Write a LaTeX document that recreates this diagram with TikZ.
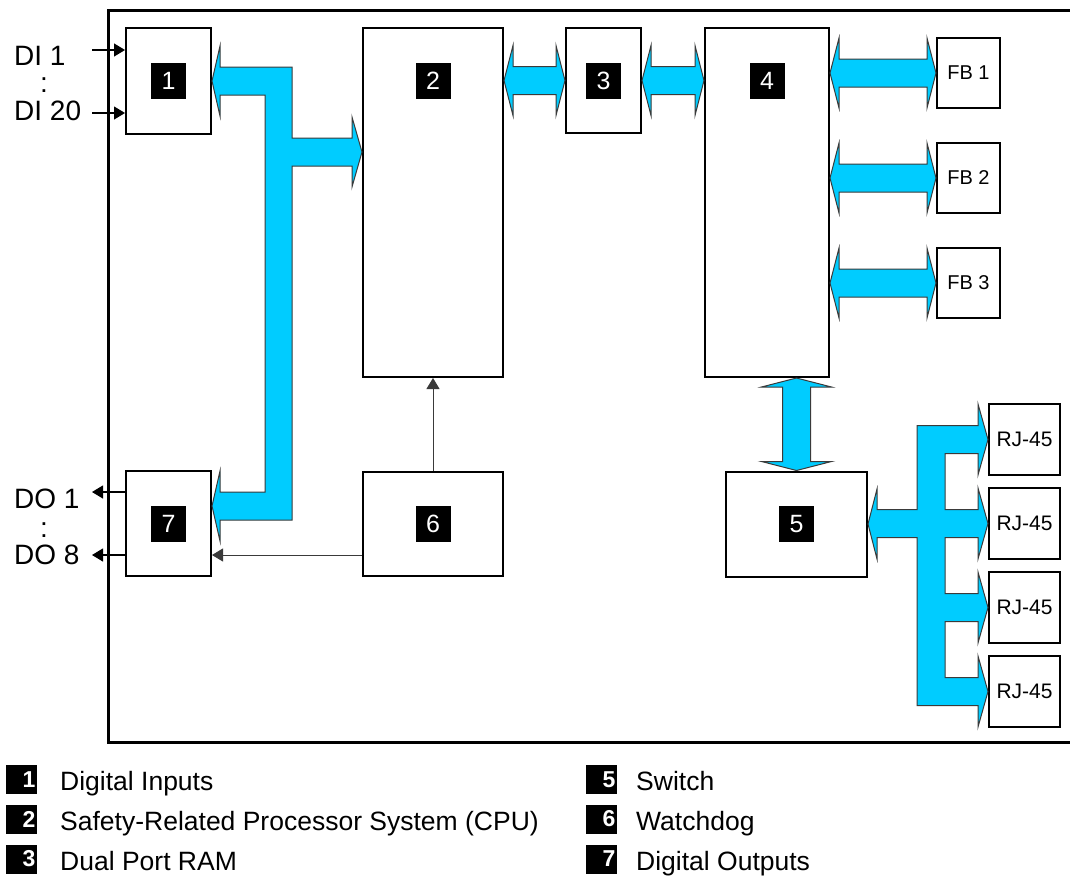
\documentclass[tikz,border=0pt]{standalone}
\usepackage{fontspec}
\setmainfont{Liberation Sans}
\usepackage{tikz}
\usetikzlibrary{arrows.meta, positioning, calc}

\definecolor{buscyan}{HTML}{00CCFF}
\definecolor{busedge}{HTML}{3A3A3A}

\tikzstyle{box} = [rectangle, draw=black, line width=2pt, fill=white, inner sep=0pt]
\tikzstyle{badge} = [rectangle, fill=black, text=white, minimum width=35pt, minimum height=36pt, inner sep=0pt, font=\fontsize{25}{25}\selectfont]
\tikzstyle{lbadge} = [rectangle, fill=black, text=white, minimum width=31pt, minimum height=29pt, inner sep=0pt, text width=28pt, align=right, font=\bfseries\fontsize{23}{23}\selectfont]
\tikzstyle{sigtext} = [inner sep=0pt, anchor=base west, font=\fontsize{28}{28}\selectfont]
\tikzstyle{legtext} = [inner sep=0pt, anchor=base west, font=\fontsize{26.5}{30}\selectfont]
\tikzstyle{arrow} = [line width=1.2pt, -{Triangle[length=11pt,width=13pt]}]
\tikzstyle{bus} = [draw=busedge, line width=1pt, fill=buscyan, line join=miter]
\tikzstyle{hbus} = [bus, to path={let \p1=(\tikztostart), \p2=(\tikztotarget) in
  (\p1) -- (\x1+9pt,\y1+35pt) -- (\x1+9pt,\y1+14pt) -- (\x2-9pt,\y1+14pt) -- (\x2-9pt,\y1+35pt)
  -- (\x2,\y1) -- (\x2-9pt,\y1-35pt) -- (\x2-9pt,\y1-14pt) -- (\x1+9pt,\y1-14pt) -- (\x1+9pt,\y1-35pt) -- cycle}]
\tikzstyle{vbus} = [bus, to path={let \p1=(\tikztostart), \p2=(\tikztotarget) in
  (\p1) -- (\x1+35pt,\y1+9pt) -- (\x1+14pt,\y1+9pt) -- (\x1+14pt,\y2-9pt) -- (\x1+35pt,\y2-9pt)
  -- (\x1,\y2) -- (\x1-35pt,\y2-9pt) -- (\x1-14pt,\y2-9pt) -- (\x1-14pt,\y1+9pt) -- (\x1-35pt,\y1+9pt) -- cycle}]

\begin{document}
\begin{tikzpicture}[x=1pt, y=-1pt]
\useasboundingbox (0,0) rectangle (1070,878);

% outer frame
\draw [line width=3pt] (1070,10) -- (108,10) -- (108,742) -- (1070,742);

% modules
\node (b1) [box, minimum width=85pt, minimum height=106pt] at (168.5,81) {};
\node (b2) [box, minimum width=140pt, minimum height=349pt] at (433,202.5) {};
\node (b3) [box, minimum width=75pt, minimum height=105pt] at (603.5,80.5) {};
\node (b4) [box, minimum width=124pt, minimum height=349pt] at (767,202.5) {};
\node (b5) [box, minimum width=141pt, minimum height=105pt] at (796.5,524) {};
\node (b6) [box, minimum width=140pt, minimum height=104pt] at (433,524) {};
\node (b7) [box, minimum width=85pt, minimum height=105pt] at (168.5,523.5) {};

\node [badge] at (b1) {1};
\node [badge] at (b2.north |- b3) {2};
\node [badge] at (b3) {3};
\node [badge] at (b4.north |- b3) {4};
\node [badge] at (b5) {5};
\node [badge] at (b6) {6};
\node [badge] at (b7) {7};

% field bus and ethernet ports
\node (fb1) [box, minimum width=63pt, minimum height=70pt, font=\fontsize{20}{20}\selectfont] at (968.5,73) {FB 1};
\node (fb2) [box, minimum width=63pt, minimum height=70pt, font=\fontsize{20}{20}\selectfont] at (968.5,178) {FB 2};
\node (fb3) [box, minimum width=63pt, minimum height=70pt, font=\fontsize{20}{20}\selectfont] at (968.5,283) {FB 3};
\node (rj1) [box, minimum width=71pt, minimum height=71pt, font=\fontsize{21}{21}\selectfont] at (1024.5,439.5) {RJ-45};
\node (rj2) [box, minimum width=71pt, minimum height=71pt, font=\fontsize{21}{21}\selectfont] at (1024.5,523.5) {RJ-45};
\node (rj3) [box, minimum width=71pt, minimum height=71pt, font=\fontsize{21}{21}\selectfont] at (1024.5,607.5) {RJ-45};
\node (rj4) [box, minimum width=71pt, minimum height=71pt, font=\fontsize{21}{21}\selectfont] at (1024.5,691.5) {RJ-45};

% buses
\draw [hbus] (b2.east |- b3) to (b3.west);
\draw [hbus] (b3.east) to (b4.west |- b3);
\draw [hbus] (b4.east |- fb1) to (fb1.west);
\draw [hbus] (b4.east |- fb2) to (fb2.west);
\draw [hbus] (b4.east |- fb3) to (fb3.west);
\draw [vbus] (b5.north) to (b4.south -| b5.north);

\draw [bus] (b1.east) -- (220,46) -- (220,67) -- (292,67) -- (292,138) -- (352,138) -- (352,117)
  -- (b2.west |- 0,152) -- (352,187) -- (352,166) -- (292,166) -- (292,520) -- (220,520) -- (220,541)
  -- (b7.east |- 0,506) -- (220,471) -- (220,492) -- (265,492) -- (265,95) -- (220,95) -- (220,116) -- cycle;

\draw [bus] (b5.east) -- (877,489) -- (877,509.5) -- (917,509.5) -- (917,425.5) -- (978,425.5) -- (978,404)
  -- (rj1.west) -- (978,475) -- (978,453.5) -- (945,453.5) -- (945,509.5) -- (978,509.5) -- (978,488)
  -- (rj2.west) -- (978,559) -- (978,537.5) -- (945,537.5) -- (945,593.5) -- (978,593.5) -- (978,572)
  -- (rj3.west) -- (978,643) -- (978,621.5) -- (945,621.5) -- (945,677.5) -- (978,677.5) -- (978,656)
  -- (rj4.west) -- (978,727) -- (978,705.5) -- (917,705.5) -- (917,537.5) -- (877,537.5) -- (877,559) -- cycle;

% signals
\node (tdi1) [sigtext] at (14,65) {DI 1};
\node (tdic) [sigtext] at (40,92) {:};
\node (tdi20) [sigtext] at (14,120) {DI 20};
\node (tdo1) [sigtext] at (14,508) {DO 1};
\node (tdoc) [sigtext] at (40,537) {:};
\node (tdo8) [sigtext] at (14,564) {DO 8};

\coordinate (di1) at (92,50);
\coordinate (di20) at (92,113);
\coordinate (do1) at (92,492);
\coordinate (do8) at (92,555);
\coordinate (wd) at ($(b6.west)+(0,31)$);

\draw [arrow] (di1) -- (di1 -| b1.west);
\draw [arrow] (di20) -- (di20 -| b1.west);
\draw [arrow] (do1 -| b7.west) -- (do1);
\draw [arrow] (do8 -| b7.west) -- (do8);
\draw [arrow, draw=busedge, line width=1pt] (b6.north) -- (b2.south);
\draw [arrow, draw=busedge, line width=1pt] (wd) -- (wd -| b7.east);

% legend
\node (l1) [lbadge] at (21.5,779.5) {1};
\node [legtext] at (60,790.5) {Digital Inputs};
\node (l2) [lbadge] at (21.5,819) {2};
\node [legtext] at (60,830) {Safety-Related Processor System (CPU)};
\node (l3) [lbadge] at (21.5,859) {3};
\node [legtext] at (60,870) {Dual Port RAM};
\node (l5) [lbadge] at (601.5,779.5) {5};
\node [legtext] at (636,790.5) {Switch};
\node (l6) [lbadge] at (601.5,819) {6};
\node [legtext] at (636,830) {Watchdog};
\node (l7) [lbadge] at (601.5,859) {7};
\node [legtext] at (636,870) {Digital Outputs};
\end{tikzpicture}
\end{document}
